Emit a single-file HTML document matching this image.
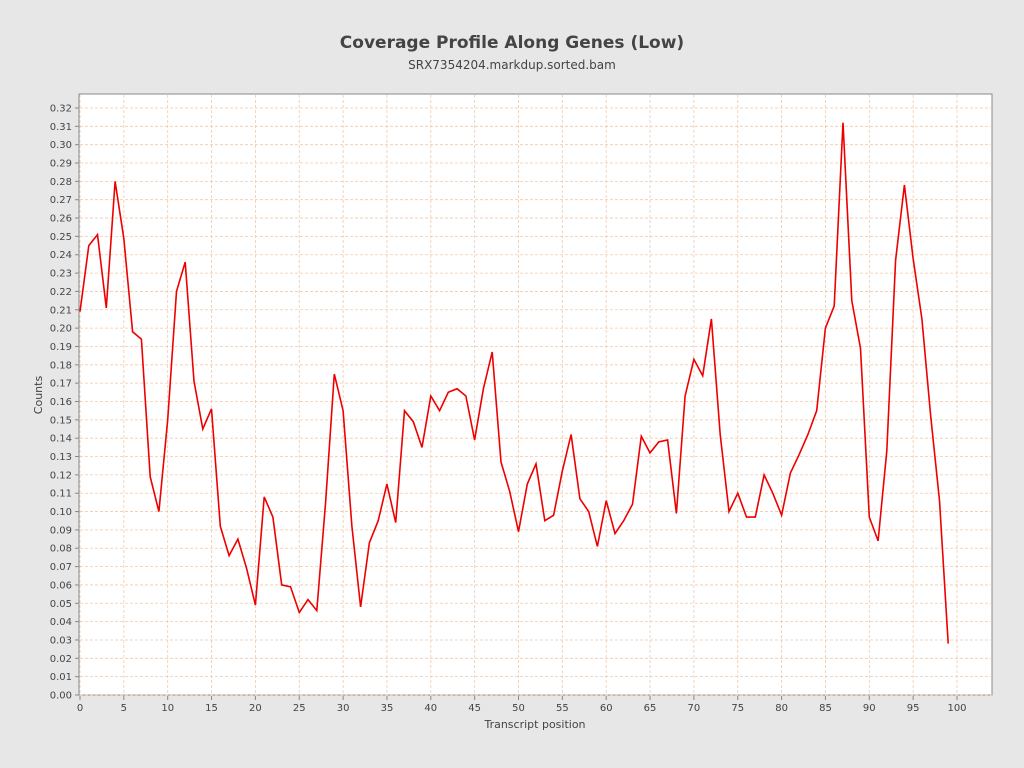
<!DOCTYPE html>
<html><head><meta charset="utf-8"><style>
body{margin:0;background:#e7e7e7;width:1024px;height:768px;overflow:hidden;font-family:"Liberation Sans","DejaVu Sans",sans-serif}
</style></head><body>
<svg id="s" width="1024" height="768" xmlns="http://www.w3.org/2000/svg" style="position:absolute;left:0;top:0">
<rect x="0" y="0" width="1024" height="768" fill="#e7e7e7"/>
<text x="512" y="48" text-anchor="middle" font-family="DejaVu Sans, sans-serif" font-weight="bold" font-size="17" fill="#444">Coverage Profile Along Genes (Low)</text>
<text x="512" y="69" text-anchor="middle" font-family="DejaVu Sans, sans-serif" font-size="12" fill="#444">SRX7354204.markdup.sorted.bam</text>
<rect x="79" y="94" width="913" height="601" fill="#fff" stroke="#888"/>
<g id="g"></g>
<text x="535" y="728" text-anchor="middle" font-family="DejaVu Sans, sans-serif" font-size="11" fill="#444">Transcript position</text>
<text transform="translate(42,395) rotate(-90)" text-anchor="middle" font-family="DejaVu Sans, sans-serif" font-size="11" fill="#444">Counts</text>
</svg>
<script>
var d=[0.209,0.245,0.251,0.211,0.280,0.249,0.198,0.194,0.119,0.100,0.150,0.220,0.236,0.171,0.145,0.156,0.092,0.076,0.085,0.069,0.049,0.108,0.097,0.060,0.059,0.045,0.052,0.046,0.105,0.175,0.155,0.092,0.048,0.083,0.095,0.115,0.094,0.155,0.149,0.135,0.163,0.155,0.165,0.167,0.163,0.139,0.167,0.187,0.127,0.111,0.089,0.115,0.126,0.095,0.098,0.122,0.142,0.107,0.100,0.081,0.106,0.088,0.095,0.104,0.141,0.132,0.138,0.139,0.099,0.163,0.183,0.174,0.205,0.142,0.100,0.110,0.097,0.097,0.120,0.110,0.098,0.121,0.131,0.142,0.155,0.200,0.212,0.312,0.215,0.189,0.097,0.084,0.133,0.237,0.278,0.238,0.205,0.152,0.106,0.028];
function X(v){return 80+v*8.77}function Y(v){return 695-v*1834.4}
var h='';
for(var i=0;i<=32;i++){var y=Y(i/100);h+='<line x1="80" x2="992" y1="'+y+'" y2="'+y+'" stroke="#f2c9a8" stroke-dasharray="3,2" stroke-width="0.8"/>';
h+='<line x1="75" x2="79" y1="'+y+'" y2="'+y+'" stroke="#888"/>';
h+='<text x="72" y="'+(y+3.5)+'" text-anchor="end" font-size="10" font-family="DejaVu Sans,sans-serif" fill="#444">'+(i/100).toFixed(2)+'</text>';}
for(var i=0;i<=100;i+=5){var x=X(i);h+='<line y1="95" y2="695" x1="'+x+'" x2="'+x+'" stroke="#f2c9a8" stroke-dasharray="3,2" stroke-width="0.8"/>';
h+='<line y1="696" y2="700" x1="'+x+'" x2="'+x+'" stroke="#888"/>';
h+='<text y="711" x="'+x+'" text-anchor="middle" font-size="10" font-family="DejaVu Sans,sans-serif" fill="#444">'+i+'</text>';}
var p=d.map(function(v,i){return X(i).toFixed(1)+','+Y(v).toFixed(1)}).join(' ');
h+='<polyline points="'+p+'" fill="none" stroke="#ee0000" stroke-width="1.6"/>';
document.getElementById('g').innerHTML=h;
</script>
</body></html>
